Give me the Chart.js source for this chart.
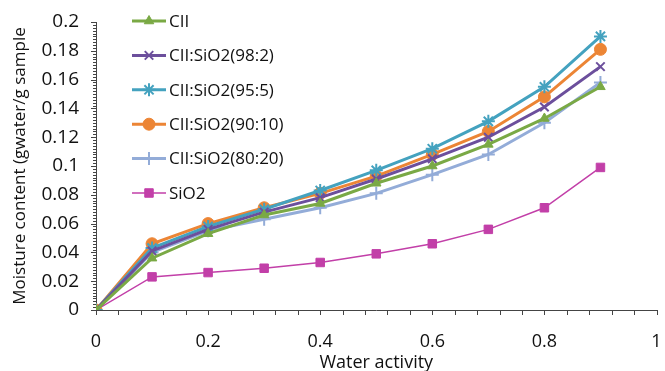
<!DOCTYPE html>
<html>
<head>
<meta charset="utf-8">
<script src="https://cdn.jsdelivr.net/npm/chart.js@4.4.1/dist/chart.umd.min.js"></script>
<style>
  html, body { margin: 0; padding: 0; background: #fff; }
  #chart { display: block; }
</style>
</head>
<body>
<canvas id="chart" width="665" height="371"></canvas>
<script>
const waterActivity = [0, 0.1, 0.2, 0.3, 0.4, 0.5, 0.6, 0.7, 0.8, 0.9];

const cii = [0, 0.036, 0.053, 0.066, 0.074, 0.088, 0.100, 0.115, 0.133, 0.155];
const cii98 = [0, 0.041, 0.056, 0.068, 0.078, 0.091, 0.105, 0.120, 0.141, 0.169];
const cii95 = [0, 0.043, 0.058, 0.070, 0.083, 0.097, 0.112, 0.131, 0.155, 0.190];
const cii90 = [0, 0.046, 0.060, 0.071, 0.081, 0.093, 0.108, 0.124, 0.148, 0.181];
const cii80 = [0, 0.040, 0.055, 0.063, 0.071, 0.081, 0.094, 0.108, 0.130, 0.158];
const sio2 = [0, 0.023, 0.026, 0.029, 0.033, 0.039, 0.046, 0.056, 0.071, 0.099];

const seriesLabels = ['CII', 'CII:SiO2(98:2)', 'CII:SiO2(95:5)', 'CII:SiO2(90:10)', 'CII:SiO2(80:20)', 'SiO2'];
const seriesValues = [cii, cii98, cii95, cii90, cii80, sio2];
const seriesColors = ['#7aa945', '#6c4f9c', '#44a2bf', '#ec8535', '#93acd8', '#c23fa8'];
const seriesMarkers = ['triangle', 'crossRot', 'star', 'circle', 'cross', 'rect'];
const markerSizes = [5.5, 6, 6.5, 6, 6.5, 6];
const lineWidths = [3, 3, 3, 3, 3, 1.5];

const FONT = '"Open Sans", "DejaVu Sans", sans-serif';
const TEXT_COLOR = '#111';

function toPoints(values) {
  return values.map((v, i) => ({ x: waterActivity[i], y: v }));
}

function trimNumber(v) {
  return String(parseFloat(v.toFixed(3)));
}

// minor tick marks along both axes
const minorTicks = {
  id: 'minorTicks',
  afterDraw(chart) {
    const { ctx, scales: { x, y }, chartArea } = chart;
    ctx.save();
    ctx.strokeStyle = '#444';
    ctx.lineWidth = 1;
    ctx.beginPath();
    for (let i = 0; i <= 25; i++) {
      const px = Math.round(x.getPixelForValue(i * 0.04)) + 0.5;
      ctx.moveTo(px, chartArea.bottom);
      ctx.lineTo(px, chartArea.bottom + 5);
    }
    for (let i = 0; i <= 100; i++) {
      const py = Math.round(y.getPixelForValue(i * 0.002)) + 0.5;
      const len = i % 10 === 0 ? 5 : 3;
      ctx.moveTo(chartArea.left - len, py);
      ctx.lineTo(chartArea.left, py);
    }
    ctx.stroke();
    ctx.restore();
  },
};

// legend drawn inside the plot, top-left
const insideLegend = {
  id: 'insideLegend',
  afterDraw(chart) {
    const { ctx } = chart;
    const lineX0 = 132;
    const lineX1 = 166;
    const textX = 169;
    ctx.save();
    chart.data.datasets.forEach((ds, i) => {
      const rowY = 21 + i * 34.4;
      ctx.strokeStyle = ds.borderColor;
      ctx.lineWidth = ds.borderWidth;
      ctx.beginPath();
      ctx.moveTo(lineX0, rowY);
      ctx.lineTo(lineX1, rowY);
      ctx.stroke();
      ctx.fillStyle = ds.pointBackgroundColor;
      ctx.strokeStyle = ds.pointBorderColor;
      ctx.lineWidth = ds.pointBorderWidth;
      Chart.helpers.drawPoint(ctx, {
        pointStyle: ds.pointStyle,
        radius: ds.pointRadius,
        rotation: 0,
        borderWidth: ds.pointBorderWidth,
      }, (lineX0 + lineX1) / 2, rowY);
      ctx.fillStyle = TEXT_COLOR;
      ctx.font = '17px ' + FONT;
      ctx.textAlign = 'left';
      ctx.textBaseline = 'middle';
      ctx.fillText(ds.label, textX, rowY + 1);
    });
    ctx.restore();
  },
};

const datasets = seriesLabels.map((label, i) => ({
  label,
  data: toPoints(seriesValues[i]),
  borderColor: seriesColors[i],
  backgroundColor: seriesColors[i],
  borderWidth: lineWidths[i],
  pointStyle: seriesMarkers[i],
  pointRadius: markerSizes[i],
  pointBackgroundColor: seriesColors[i],
  pointBorderColor: seriesColors[i],
  pointBorderWidth: seriesMarkers[i] === 'crossRot' || seriesMarkers[i] === 'star' || seriesMarkers[i] === 'cross' ? 2 : 1,
  tension: 0,
  fill: false,
}));

new Chart(document.getElementById('chart'), {
  type: 'line',
  data: { datasets },
  options: {
    responsive: false,
    animation: false,
    layout: { padding: { top: 22, right: 7, left: 0, bottom: 0 } },
    plugins: {
      legend: { display: false },
      tooltip: { enabled: false },
    },
    scales: {
      x: {
        type: 'linear',
        min: 0,
        max: 1,
        afterFit(scale) {
          scale.height = 61;
          scale.paddingLeft = 0;
          scale.paddingRight = 0;
        },
        ticks: {
          stepSize: 0.2,
          padding: 21,
          color: TEXT_COLOR,
          font: { family: FONT, size: 18 },
          maxRotation: 0,
          callback: (v) => trimNumber(v),
        },
        grid: { display: false, drawTicks: false },
        border: { display: true, color: '#444', width: 1 },
        title: {
          display: true,
          text: 'Water activity',
          color: TEXT_COLOR,
          font: { family: FONT, size: 18 },
          padding: { top: 0, bottom: -3 },
        },
      },
      y: {
        type: 'linear',
        min: 0,
        max: 0.2,
        afterFit(scale) {
          scale.width = 96;
          scale.paddingTop = 0;
          scale.paddingBottom = 0;
        },
        ticks: {
          stepSize: 0.02,
          padding: 17,
          color: TEXT_COLOR,
          font: { family: FONT, size: 19 },
          callback: (v) => trimNumber(v),
        },
        grid: { display: false, drawTicks: false },
        border: { display: true, color: '#444', width: 1 },
        title: {
          display: true,
          text: 'Moisture content (gwater/g sample',
          color: TEXT_COLOR,
          font: { family: FONT, size: 17 },
          padding: { top: 10, bottom: 0 },
        },
      },
    },
  },
  plugins: [minorTicks, insideLegend],
});
</script>
</body>
</html>
